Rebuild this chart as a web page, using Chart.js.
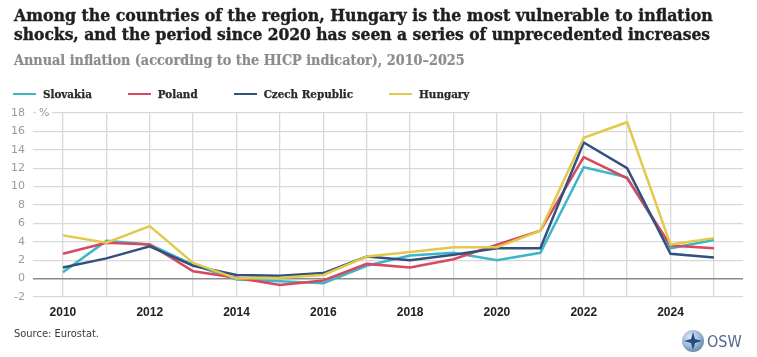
<!DOCTYPE html>
<html>
<head>
<meta charset="utf-8">
<script src="https://cdn.jsdelivr.net/npm/chart.js@4.4.1/dist/chart.umd.min.js"></script>
<style>
  html, body { margin: 0; padding: 0; background: #fff; }
  #wrap { position: relative; width: 757px; height: 357px; overflow: hidden; background: #fff; }
  #c { position: absolute; left: 0; top: 0; }
  .t { position: absolute; left: 14px; white-space: nowrap; font-family: 'DejaVu Serif Condensed', 'DejaVu Serif', serif; font-weight: bold; }
  #title1, #title2 { color: #1f1f1f; font-size: 16px; line-height: 20px; -webkit-text-stroke: 0.4px #1f1f1f; }
  #title1 { top: 5px; }
  #title2 { top: 24px; }
  #subtitle { top: 51px; color: #8c8c8c; font-size: 14px; line-height: 18px; -webkit-text-stroke: 0.2px #8c8c8c; }
  #legend { position: absolute; left: 13px; top: 86px; height: 16px; display: flex; align-items: center; }
  .li { display: flex; align-items: center; margin-right: 36px; font-family: 'DejaVu Serif Condensed', 'DejaVu Serif', serif; font-weight: bold; font-size: 11.5px; color: #2a2a2a; -webkit-text-stroke: 0.25px #2a2a2a; }
  .sw { width: 23px; height: 2.5px; margin-right: 7px; }
  #source { position: absolute; left: 14px; top: 327px; font-family: 'DejaVu Sans Condensed', 'DejaVu Sans', sans-serif; font-size: 11px; color: #3a3a3a; }
  #logo { position: absolute; left: 681px; top: 329px; display: flex; align-items: center; }
  #logo span { font-family: 'DejaVu Sans Condensed', 'DejaVu Sans', sans-serif; font-size: 16px; color: #4d6a8c; margin-left: 2px; }
</style>
</head>
<body>
<div id="wrap">
  <canvas id="c" width="757" height="357"></canvas>
  <div class="t" id="title1">Among the countries of the region, Hungary is the most vulnerable to inflation</div>
  <div class="t" id="title2">shocks, and the period since 2020 has seen a series of unprecedented increases</div>
  <div class="t" id="subtitle">Annual inflation (according to the HICP indicator), 2010–2025</div>
  <div id="legend"></div>
  <div id="source">Source: Eurostat.</div>
  <div id="logo">
    <svg width="24" height="24" viewBox="0 0 24 24">
      <defs>
        <radialGradient id="g" cx="40%" cy="35%" r="70%">
          <stop offset="0%" stop-color="#e6eef6"/>
          <stop offset="60%" stop-color="#9bb6d2"/>
          <stop offset="100%" stop-color="#5f82a8"/>
        </radialGradient>
      </defs>
      <circle cx="12" cy="12" r="11" fill="url(#g)"/>
      <path d="M12 3 L14 10 L21 12 L14 14 L12 21 L10 14 L3 12 L10 10 Z" fill="#1f4f86"/>
    </svg>
    <span>OSW</span>
  </div>
</div>
<script>
const years = [2010,2011,2012,2013,2014,2015,2016,2017,2018,2019,2020,2021,2022,2023,2024,2025];
const slovakia = [0.7,4.1,3.7,1.5,-0.1,-0.3,-0.5,1.4,2.5,2.8,2.0,2.8,12.1,11.0,3.3,4.2];
const poland   = [2.7,3.9,3.7,0.8,0.1,-0.7,-0.2,1.6,1.2,2.1,3.7,5.2,13.2,10.9,3.6,3.3];
const czech    = [1.2,2.2,3.5,1.4,0.4,0.3,0.6,2.4,2.0,2.6,3.3,3.3,14.8,12.0,2.7,2.3];
const hungary  = [4.7,3.9,5.7,1.7,0.0,0.1,0.4,2.4,2.9,3.4,3.4,5.2,15.3,17.0,3.7,4.4];
const seriesNames = ['Slovakia','Poland','Czech Republic','Hungary'];
const seriesColors = ['#3db6c8','#d6495f','#34507e','#e2c94a'];
const yTicks = [-2,0,2,4,6,8,10,12,14,16,18];

function fit(id, target) {
  const el = document.getElementById(id);
  const fs = parseFloat(getComputedStyle(el).fontSize);
  const w = el.getBoundingClientRect().width;
  el.style.fontSize = (fs * target / w) + 'px';
}
fit('title1', 699);
fit('title2', 697);
fit('subtitle', 451);

const leg = document.getElementById('legend');
seriesNames.forEach((n, i) => {
  const d = document.createElement('div');
  d.className = 'li';
  d.innerHTML = '<div class="sw" style="background:' + seriesColors[i] + '"></div>' + n;
  leg.appendChild(d);
});

const data = [slovakia, poland, czech, hungary];
const orders = [4, 3, 2, 1];
const datasets = data.map((arr, i) => ({
  label: seriesNames[i],
  data: arr.map((v, j) => ({ x: years[j], y: v })),
  borderColor: seriesColors[i],
  backgroundColor: seriesColors[i],
  borderWidth: 2.5,
  pointRadius: 0,
  tension: 0,
  order: orders[i]
}));

const percentPlugin = {
  id: 'pct',
  afterDraw(chart) {
    const ctx = chart.ctx;
    const y = chart.scales.y.getPixelForValue(18);
    ctx.save();
    ctx.fillStyle = '#fff';
    ctx.fillRect(36, y - 6, 16, 12);
    ctx.fillStyle = '#999';
    ctx.font = '11px "DejaVu Sans", sans-serif';
    ctx.textBaseline = 'middle';
    ctx.textAlign = 'left';
    ctx.fillText('%', 39, y);
    ctx.restore();
  }
};

new Chart(document.getElementById('c'), {
  type: 'line',
  data: { datasets },
  options: {
    responsive: false,
    animation: false,
    devicePixelRatio: 1,
    layout: { padding: { top: 113, right: 14, bottom: 35, left: 0 } },
    plugins: { legend: { display: false }, tooltip: { enabled: false }, title: { display: false } },
    scales: {
      x: {
        type: 'linear',
        min: 2009.31,
        max: 2025.67,
        afterBuildTicks: s => { s.ticks = years.map(v => ({ value: v })); },
        afterFit: s => { s.height = 25; },
        ticks: {
          autoSkip: false,
          maxRotation: 0,
          padding: 8,
          color: '#222',
          font: { family: 'Liberation Sans, Arial, sans-serif', size: 12, weight: 'bold' },
          callback: v => (v % 2 === 0 ? String(v) : '')
        },
        grid: { color: '#d9d9d9', lineWidth: 1.3, drawTicks: false },
        border: { display: false }
      },
      y: {
        min: -2,
        max: 18,
        afterBuildTicks: s => { s.ticks = yTicks.map(v => ({ value: v })); },
        afterFit: s => { s.width = 33; },
        ticks: {
          padding: 8,
          color: '#9a9a9a',
          font: { family: 'DejaVu Sans, sans-serif', size: 11 },
          callback: v => String(v)
        },
        grid: {
          color: ctx => (ctx.tick && ctx.tick.value === 0 ? '#8a8a8a' : '#d9d9d9'),
          lineWidth: ctx => (ctx.tick && ctx.tick.value === 0 ? 1.5 : 1.3),
          drawTicks: false
        },
        border: { display: false }
      }
    }
  },
  plugins: [percentPlugin]
});
</script>
</body>
</html>
